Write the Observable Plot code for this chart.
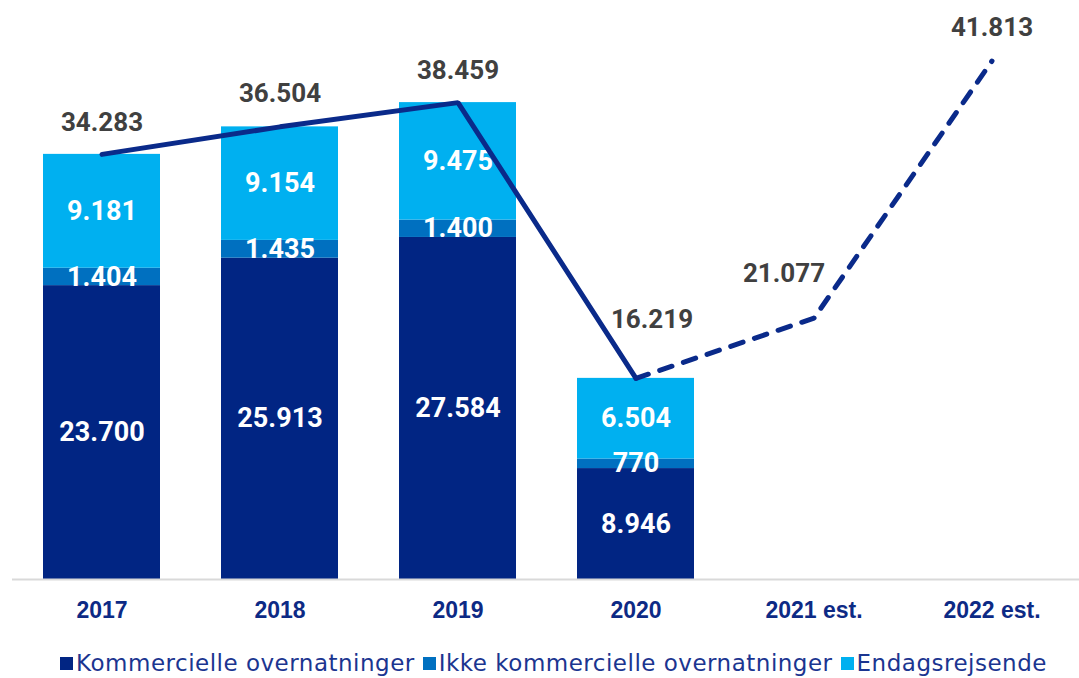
<!DOCTYPE html>
<html>
<head>
<meta charset="utf-8">
<script src="https://cdn.jsdelivr.net/npm/d3@7"></script>
<script src="https://cdn.jsdelivr.net/npm/@observablehq/plot@0.6"></script>
<style>
  html, body { margin: 0; padding: 0; background: #fff; }
  #chart svg { display: block; }
  #legend { display: flex; justify-content: center; align-items: center; height: 44px; font-family: "DejaVu Sans", sans-serif; font-size: 23px; letter-spacing: 0.5px; color: #1b3590; margin-left: 28px; }
  #legend .item { display: flex; align-items: center; margin: 0 4px; }
  #legend .sw { width: 13px; height: 13px; margin-right: 3px; }
</style>
</head>
<body>
<div id="chart"></div>
<div id="legend"></div>
<script>
const years = ["2017", "2018", "2019", "2020", "2021 est.", "2022 est."];
const barYears = ["2017", "2018", "2019", "2020"];
const seriesNames = ["Kommercielle overnatninger", "Ikke kommercielle overnatninger", "Endagsrejsende"];
const kommercielle = [23700, 25913, 27584, 8946];
const ikkeKommercielle = [1404, 1435, 1400, 770];
const endagsrejsende = [9181, 9154, 9475, 6504];
const totals = [34283, 36504, 38459, 16219, 21077, 41813];
const colors = ["#012583", "#0070c0", "#00b0f0"];
const lineColor = "#0a2a8a";

// label nudges (styling, not data)
const labelDx = [0, 0, 0, 16, -30, 0];
const labelDy = [-32, -33, -32, -59, -44, -33];

const fmt = v => d3.format(",")(v).replace(/,/g, ".");

const stackRows = [];
const seriesVals = [kommercielle, ikkeKommercielle, endagsrejsende];
barYears.forEach((yr, i) => {
  seriesNames.forEach((s, j) => stackRows.push({year: yr, series: s, value: seriesVals[j][i], order: j}));
});
const lineRows = years.map((yr, i) => ({year: yr, total: totals[i], i}));
const solidRows = lineRows.filter(d => d.i <= 3);
const dashedRows = lineRows.filter(d => d.i >= 3);

const labelMarks = lineRows.map(d => Plot.text([d], {
  x: "year", y: "total", text: d => fmt(d.total),
  dx: labelDx[d.i], dy: labelDy[d.i],
  fill: "#404040", fontSize: 26, fontWeight: "bold", fontFamily: "Roboto, sans-serif"
}));

const chart = Plot.plot({
  width: 1079,
  height: 641,
  marginTop: 21,
  marginBottom: 62,
  marginLeft: 12,
  marginRight: 0,
  x: {domain: years, range: [12, 1082], paddingInner: 0.34, paddingOuter: 0.17, label: null},
  y: {domain: [0, 45000], axis: null},
  color: {domain: seriesNames, range: colors},
  marks: [
    Plot.barY(stackRows, {x: "year", y: "value", fill: "series", order: "order"}),
    Plot.text(stackRows, Plot.stackY({x: "year", y: "value", z: "series", order: "order",
      text: d => fmt(d.value), fill: "white", fontSize: 27, fontWeight: "bold", fontFamily: "Roboto, sans-serif"})),
    Plot.ruleY([0], {stroke: "#d9d9d9", strokeWidth: 2}),
    Plot.lineY(solidRows, {x: "year", y: "total", stroke: lineColor, strokeWidth: 5, strokeLinejoin: "miter", strokeLinecap: "round"}),
    Plot.lineY(dashedRows, {x: "year", y: "total", stroke: lineColor, strokeWidth: 5, strokeDasharray: "13,12", strokeLinecap: "round", strokeLinejoin: "round"}),
    ...labelMarks,
    Plot.axisX({tickSize: 0, tickPadding: 22, fontSize: 23, fontWeight: "bold", fill: "#0d2a85", fontFamily: "'Liberation Sans', Arial, sans-serif", label: null})
  ]
});
document.getElementById("chart").appendChild(chart);

const legend = document.getElementById("legend");
seriesNames.forEach((s, j) => {
  const item = document.createElement("div");
  item.className = "item";
  const sw = document.createElement("div");
  sw.className = "sw";
  sw.style.background = colors[j];
  const t = document.createElement("span");
  t.textContent = s;
  item.appendChild(sw); item.appendChild(t);
  legend.appendChild(item);
});
</script>
</body>
</html>
